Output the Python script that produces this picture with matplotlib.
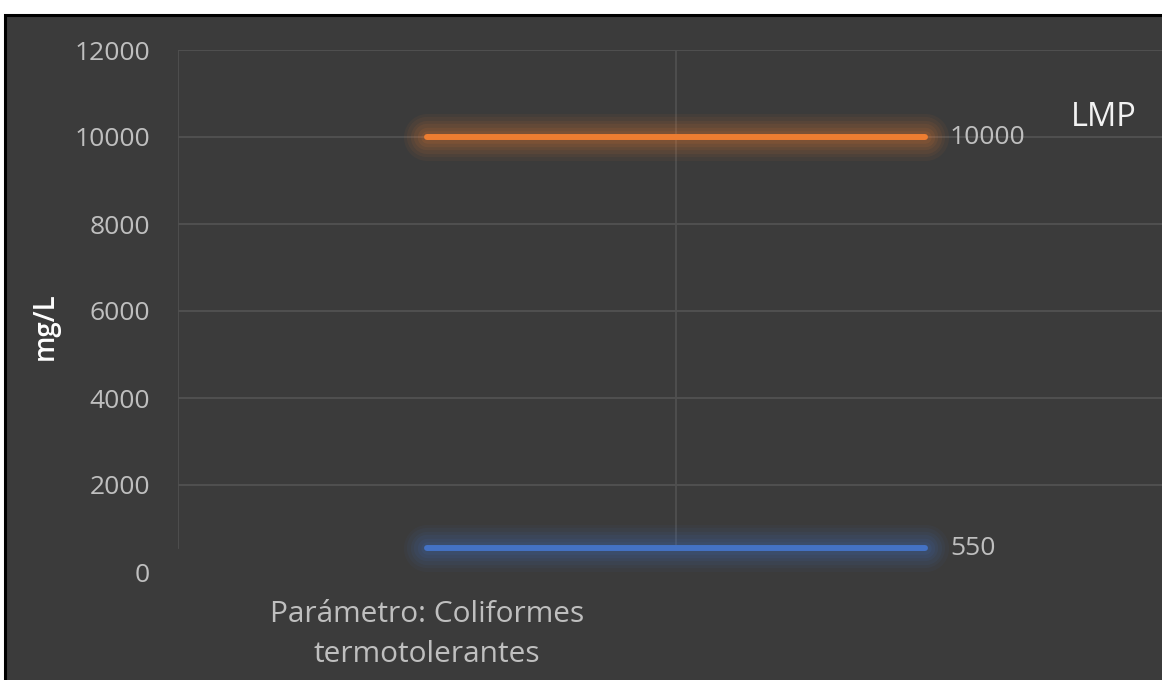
import matplotlib.pyplot as plt
from matplotlib.patches import Rectangle

# datos
categorias = ["Parámetro: Coliformes\ntermotolerantes", ""]
lmp = [10000, 10000]
resultado = [550, 550]
serie_lmp = "LMP"
y_ticks = [0, 2000, 4000, 6000, 8000, 10000, 12000]

W, H = 1162, 680
plt.rcParams['font.family'] = ['Open Sans', 'DejaVu Sans']

fig = plt.figure(figsize=(W / 100, H / 100), dpi=100)
fig.patch.set_facecolor('white')

# fondo oscuro con borde negro (se corta a la derecha y abajo)
fig.patches.append(Rectangle((5 / W, -0.1), 1.3, 1 - 15 / H + 0.1,
                             transform=fig.transFigure, facecolor='#3b3b3b',
                             edgecolor='black', linewidth=2.2, zorder=-5))

ax = fig.add_axes([178 / W, 1 - 572 / H, (1174 - 178) / W, (572 - 50) / H])
ax.set_facecolor('none')
ax.set_zorder(2)
ax.set_xlim(0, 2)
ax.set_ylim(0, 12000)

for s in ax.spines.values():
    s.set_visible(False)

# lineas de cuadricula
for t in y_ticks[1:]:
    ax.axhline(t, color='#525252', linewidth=1.3, zorder=1)
for xb in [0, 1]:
    ax.plot([xb, xb], [resultado[0], y_ticks[-1]], color='#4f4f4f', linewidth=1.3, zorder=1)

x = [0.5, 1.5]


def linea_con_brillo(xs, ys, color):
    # efecto "glow" de Excel
    for lw, a in [(34, 0.05), (29, 0.06), (24, 0.07), (19, 0.08), (14, 0.09), (9, 0.10)]:
        ax.plot(xs, ys, color=color, linewidth=lw, alpha=a,
                solid_capstyle='round', zorder=2)
    ax.plot(xs, ys, color=color, linewidth=4.3, solid_capstyle='round', zorder=3)


linea_con_brillo(x, lmp, '#ED7D31')
linea_con_brillo(x, resultado, '#4472C4')

# etiquetas de datos
ax.annotate(f"{lmp[-1]}", (x[-1], lmp[-1]), xytext=(18, 0), textcoords='offset points',
            va='center', ha='left', color='#bfbfbf', fontsize=19)
ax.annotate(f"{resultado[-1]}", (x[-1], resultado[-1]), xytext=(18, 0), textcoords='offset points',
            va='center', ha='left', color='#bfbfbf', fontsize=19)
ax.annotate(serie_lmp, (x[-1], lmp[-1]), xytext=(105, 14), textcoords='offset points',
            va='center', ha='left', color='#f2f2f2', fontsize=23.5)

ax.set_yticks(y_ticks)
ax.set_yticklabels([str(t) for t in y_ticks])
ax.set_xticks(x)
ax.set_xticklabels(categorias, linespacing=1.5)
ax.tick_params(axis='y', length=0, pad=20, labelcolor='#bfbfbf', labelsize=19)
ax.tick_params(axis='x', length=0, pad=20, labelcolor='#bfbfbf', labelsize=21.5)

fig.text(45 / W, 1 - 326 / H, "mg/L", rotation=90, ha='center', va='center',
         color='white', fontsize=20, fontweight='semibold', zorder=3)

fig.savefig('out.png', dpi=100)
